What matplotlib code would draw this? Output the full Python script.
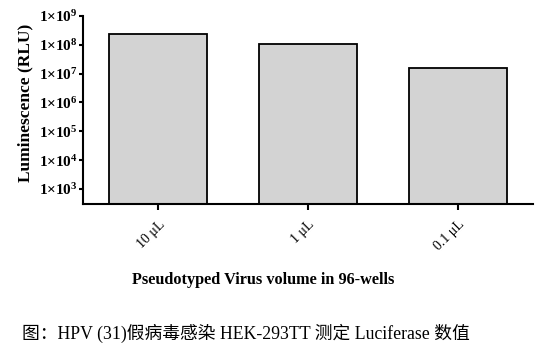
import math
import matplotlib
matplotlib.use("Agg")
import matplotlib.pyplot as plt
from matplotlib.ticker import FixedLocator, FuncFormatter

# data
categories = ['10 \u03bcL', '1 \u03bcL', '0.1 \u03bcL']
luminescence = [2.4e8, 1.07e8, 1.56e7]
decades = [3, 4, 5, 6, 7, 8, 9]

plt.rcParams['font.family'] = ['Liberation Serif', 'Noto Sans CJK SC']
plt.rcParams['mathtext.default'] = 'regular'

fig = plt.figure(figsize=(5.52, 3.58), dpi=100)
ax = fig.add_axes([83 / 552, 1 - 204 / 358, 450 / 552, 188 / 358])

x = list(range(len(categories)))
ax.bar(x, luminescence, width=0.65, color='#d3d3d3', edgecolor='black',
       linewidth=1.3, zorder=2)

ax.set_yscale('log')
ax.set_ylim(300, 1e9)
ax.set_xlim(-0.5, 2.5)
ax.yaxis.set_major_locator(FixedLocator([10.0 ** d for d in decades]))
ax.yaxis.set_minor_locator(FixedLocator([]))
ax.yaxis.set_major_formatter(FuncFormatter(
    lambda v, p: '1\u00d710$^{%d}$' % round(math.log10(v))))

ax.set_xticks(x)
ax.set_xticklabels(categories, rotation=45, ha='right', va='top',
                   rotation_mode='anchor', fontsize=10)

for s in ['top', 'right']:
    ax.spines[s].set_visible(False)
for s in ['left', 'bottom']:
    ax.spines[s].set_linewidth(1.5)

ax.tick_params(axis='y', length=3, width=1.5, pad=1, labelsize=11)
ax.tick_params(axis='x', length=4, width=1.5, pad=6)
for lbl in ax.get_yticklabels():
    lbl.set_fontweight('bold')

ax.set_ylabel('Luminescence (RLU)', fontsize=12.5, fontweight='bold')
ax.yaxis.set_label_coords(-0.111, 0.54)

fig.text(263 / 552, 1 - 280 / 358, 'Pseudotyped Virus volume in 96-wells',
         ha='center', va='center', fontsize=11.7, fontweight='bold')

fig.text(22 / 552, 1 - 333 / 358,
         '图：HPV (31)假病毒感染 HEK-293TT 测定 Luciferase 数值',
         ha='left', va='center', fontsize=12.8)

fig.savefig('out.png', dpi=100)
